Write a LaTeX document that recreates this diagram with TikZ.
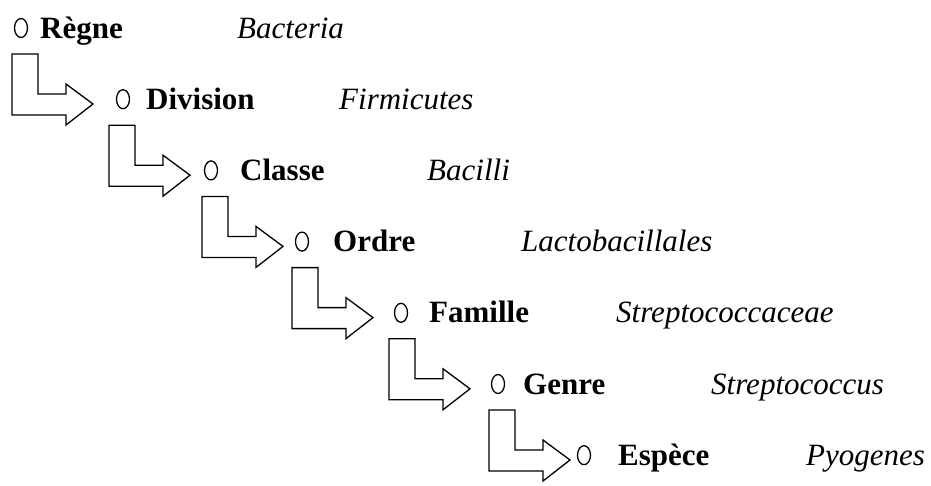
\documentclass[tikz,border=0pt]{standalone}
\usepackage{fontspec}
\setmainfont{Liberation Serif}
\usetikzlibrary{shapes.geometric}

\tikzset{
    rond/.style={draw, ellipse, line width=1.3pt, minimum width=13pt,
        minimum height=19pt, inner sep=0pt},
    rang/.style={anchor=base west, inner sep=0pt,
        font=\fontsize{31}{36}\selectfont\bfseries},
    taxon/.style={anchor=base west, inner sep=0pt,
        font=\fontsize{31}{36}\selectfont\itshape},
    fleche/.style={draw, line width=1.3pt, line join=miter}
}

\begin{document}
\begin{tikzpicture}[x=1pt, y=-1pt]
        \useasboundingbox (0,0) rectangle (931,485);
        % rangs et taxons
        \foreach \i/\xc/\xr/\xt/\nomrang/\nomlat in {
            0/21/40/237/Règne/Bacteria,
            1/123/146/339/Division/Firmicutes,
            2/211/240/427/Classe/Bacilli,
            3/302/333/521/Ordre/Lactobacillales,
            4/401/429/616/Famille/Streptococcaceae,
            5/498/523/711/Genre/Streptococcus,
            6/584/618/806/Espèce/Pyogenes} {
                \pgfmathsetmacro\yb{38+71.2*\i}
                \node[rond] (c\i) at (\xc,\yb-10) {};
                \node[rang] (r\i) at (\xr,\yb) {\nomrang};
                \node[taxon] (t\i) at (\xt,\yb) {\nomlat};
            }
        % fleches coudees
        \foreach \i/\xa in {0/12,1/109,2/202,3/292,4/389,5/489} {
            \pgfmathsetmacro\ya{38+71.2*\i+16}
            \coordinate (a\i) at (\xa,\ya);
            \draw[fleche] (a\i) -- ++(26,0) -- ++(0,40) -- ++(28,0)
                -- ++(0,-10) -- ++(27,20) -- ++(-27,21) -- ++(0,-10)
                -- ++(-54,0) -- cycle;
        }
    \end{tikzpicture}
\end{document}
